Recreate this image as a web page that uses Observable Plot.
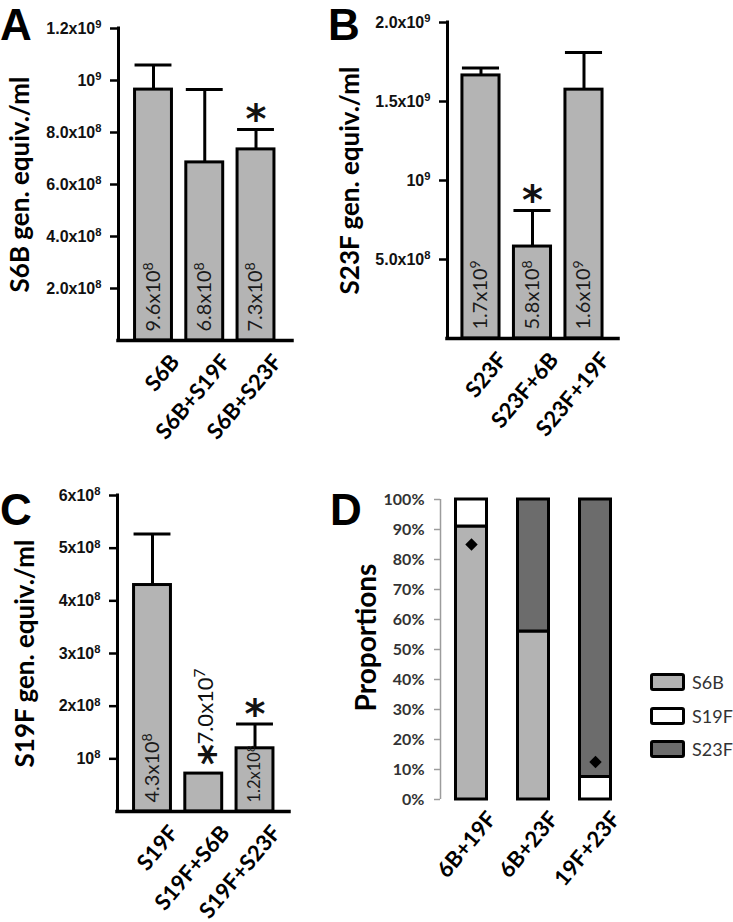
<!DOCTYPE html>
<html>
<head>
<meta charset="utf-8">
<script src="https://cdn.jsdelivr.net/npm/d3@7"></script>
<script src="https://cdn.jsdelivr.net/npm/@observablehq/plot@0.6"></script>
<style>
  html, body { margin: 0; padding: 0; background: #fff; }
  #fig { position: relative; width: 733px; height: 922px; overflow: hidden; background: #fff; }
  .panel { position: absolute; }
  .letter { position: absolute; font-family: 'Liberation Sans', Arial, sans-serif; font-weight: bold; font-size: 44px; line-height: 1.12; color: #000; }
  .leg { position: absolute; left: 650px; height: 18px; display: flex; align-items: center; font-family: Lato, sans-serif; font-size: 18px; color: #333; }
  .sw { display: inline-block; box-sizing: border-box; width: 35px; height: 18px; border: 3.5px solid #000; border-radius: 3px; margin-right: 7px; }
</style>
</head>
<body>
<div id="fig">
  <div class="panel" id="pA" style="left:0;top:0"></div>
  <div class="panel" id="pB" style="left:340px;top:0"></div>
  <div class="panel" id="pC" style="left:0;top:460px"></div>
  <div class="panel" id="pD" style="left:340px;top:460px"></div>
  <div class="letter" style="left:0;top:0">A</div>
  <div class="letter" style="left:328px;top:0">B</div>
  <div class="letter" style="left:0;top:485px">C</div>
  <div class="letter" style="left:330px;top:485px">D</div>
  <div id="legend"></div>
</div>
<script>
// ---------- Panel A ----------
const catsA = ["S6B", "S6B+S19F", "S6B+S23F"];
const meanA = [9.65e8, 6.85e8, 7.35e8];
const upperA = [1.06e9, 9.65e8, 8.12e8];
const textA = ["9.6x10^8", "6.8x10^8", "7.3x10^8"];
const starA = [false, false, true];
const ticksA = [2e8, 4e8, 6e8, 8e8, 1e9, 1.2e9];
const tickTextA = ["2.0x10^8", "4.0x10^8", "6.0x10^8", "8.0x10^8", "10^9", "1.2x10^9"];
const titleA = "S6B gen. equiv./ml";

// ---------- Panel B ----------
const catsB = ["S23F", "S23F+6B", "S23F+19F"];
const meanB = [1.665e9, 5.82e8, 1.575e9];
const upperB = [1.712e9, 8.1e8, 1.81e9];
const textB = ["1.7x10^9", "5.8x10^8", "1.6x10^9"];
const starB = [false, true, false];
const ticksB = [5e8, 1e9, 1.5e9, 2e9];
const tickTextB = ["5.0x10^8", "10^9", "1.5x10^9", "2.0x10^9"];
const titleB = "S23F gen. equiv./ml";

// ---------- Panel C ----------
const catsC = ["S19F", "S19F+S6B", "S19F+S23F"];
const meanC = [4.3e8, 7.2e7, 1.2e8];
const upperC = [5.27e8, null, 1.66e8];
const textC = ["4.3x10^8", null, "1.2x10^8"];
const starC = [false, false, true];
const aboveTextC = [null, "7.0x10^7", null];
const aboveStarC = [false, true, false];
const ticksC = [1e8, 2e8, 3e8, 4e8, 5e8, 6e8];
const tickTextC = ["10^8", "2x10^8", "3x10^8", "4x10^8", "5x10^8", "6x10^8"];
const titleC = "S19F gen. equiv./ml";

// ---------- Panel D ----------
const catsD = ["6B+19F", "6B+23F", "19F+23F"];
const seriesD = ["S6B", "S19F", "S23F"];
const colorsD = ["#b3b3b3", "#ffffff", "#6c6c6c"];
const propS6B = [0.91, 0.56, 0];
const propS19F = [0.09, 0, 0.075];
const propS23F = [0, 0.44, 0.925];
const diamondD = [0.85, null, 0.125];
const ticksD = [0, 0.1, 0.2, 0.3, 0.4, 0.5, 0.6, 0.7, 0.8, 0.9, 1];
const tickTextD = ["0%", "10%", "20%", "30%", "40%", "50%", "60%", "70%", "80%", "90%", "100%"];
const titleD = "Proportions";

// superscript helper: "a^b" -> a<tspan sup>b</tspan>
function supify(svg) {
  const ns = "http://www.w3.org/2000/svg";
  svg.querySelectorAll("text").forEach(t => {
    const nodes = t.querySelector("tspan") ? [...t.querySelectorAll("tspan")] : [t];
    nodes.forEach(n => {
      const m = (n.textContent || "").match(/^(.*)\^(\d+)$/);
      if (!m) return;
      n.textContent = "";
      const a = document.createElementNS(ns, "tspan");
      a.textContent = m[1];
      const b = document.createElementNS(ns, "tspan");
      b.textContent = m[2];
      b.setAttribute("font-size", "70%");
      b.setAttribute("dy", "-0.5em");
      n.append(a, b);
    });
  });
  return svg;
}

const BAR_FILL = "#b4b4b4";
const HW = 0.36;
const XROT = -50;
const TICKFONT = "'Liberation Sans Narrow', 'Arial Narrow', 'Liberation Sans', sans-serif";

function barPanel(cfg) {
  const {cats, mean, upper, text, star, ticks, tickText, title, width, height,
         marginLeft, marginRight, marginTop, marginBottom, xDomain, yDomain, titleDx,
         labelSizes, aboveText, aboveStar} = cfg;
  const rows = cats.map((c, i) => ({
    i, cat: c, mean: mean[i], upper: upper[i], label: text[i], star: star[i],
    above: aboveText ? aboveText[i] : null, aboveStar: aboveStar ? aboveStar[i] : false,
    labelSize: labelSizes[i]
  }));
  const withErr = rows.filter(d => d.upper != null);
  return supify(Plot.plot({
    width, height, marginLeft, marginRight, marginTop, marginBottom,
    x: {type: "linear", domain: xDomain, axis: null},
    y: {domain: yDomain, axis: null},
    style: {fontFamily: TICKFONT, fontSize: "16px", fontWeight: "bold",
            background: "transparent", overflow: "visible"},
    marks: [
      Plot.ruleX(withErr, {x: "i", y1: "mean", y2: "upper", stroke: "#000", strokeWidth: 3}),
      Plot.ruleY(withErr, {y: "upper", x1: d => d.i - HW, x2: d => d.i + HW, stroke: "#000", strokeWidth: 3}),
      Plot.rectY(rows, {x1: d => d.i - HW, x2: d => d.i + HW, y: "mean", fill: BAR_FILL, stroke: "#000", strokeWidth: 3}),
      Plot.ruleX([xDomain[0]], {stroke: "#000", strokeWidth: 3, strokeLinecap: "square"}),
      Plot.ruleY([0], {stroke: "#000", strokeWidth: 3.5, strokeLinecap: "square"}),
      Plot.axisY({ticks, tickFormat: d => tickText[ticks.indexOf(d)], tickSize: 8, tickPadding: 9,
                  strokeWidth: 2.5, fontFamily: TICKFONT, fontSize: 16, fontWeight: "bold", fill: "#111", label: null}),
      Plot.text(rows.filter(d => d.label), {x: "i", y: 0, text: "label", rotate: -90, textAnchor: "start",
                  dy: -9, fontFamily: "Lato", fontWeight: "normal", fontSize: d => d.labelSize, fill: "#1a1a1a"}),
      Plot.text(rows.filter(d => d.above), {x: "i", y: "mean", text: "above", rotate: -90, textAnchor: "start",
                  dy: -29, dx: 2, fontFamily: "Lato", fontWeight: "normal", fontSize: 22, fill: "#111"}),
      Plot.text(rows.filter(d => d.aboveStar), {x: "i", y: "mean", text: () => "*", rotate: -90, dy: -19, dx: 11,
                  fontFamily: "DejaVu Sans", fontWeight: "bold", fontSize: 40, fill: "#111"}),
      Plot.text(rows.filter(d => d.star), {x: "i", y: "upper", text: () => "*", dy: -9,
                  fontFamily: "DejaVu Sans", fontWeight: "bold", fontSize: 40, fill: "#111"}),
      Plot.text(rows, {x: "i", y: 0, text: "cat", rotate: XROT, textAnchor: "end", lineAnchor: "top",
                  dx: 15, dy: 12, fontFamily: "Lato", fontWeight: "bold", fontSize: 22, fill: "#000"}),
      Plot.text([title], {frameAnchor: "left", rotate: -90, textAnchor: "middle", dx: titleDx, fontFamily: "Lato",
                  fontWeight: "bold", fontSize: 26, fill: "#000"})
    ]
  }));
}

document.getElementById("pA").append(barPanel({
  cats: catsA, mean: meanA, upper: upperA, text: textA, star: starA, ticks: ticksA, tickText: tickTextA,
  title: titleA, width: 300, height: 445, marginLeft: 118, marginRight: 8, marginTop: 28, marginBottom: 105,
  xDomain: [-0.683, 2.712], yDomain: [0, 1.2e9], titleDx: -98, labelSizes: [20, 20, 20]
}));

document.getElementById("pB").append(barPanel({
  cats: catsB, mean: meanB, upper: upperB, text: textB, star: starB, ticks: ticksB, tickText: tickTextB,
  title: titleB, width: 290, height: 445, marginLeft: 107, marginRight: 12, marginTop: 22, marginBottom: 107,
  xDomain: [-0.65, 2.67], yDomain: [0, 2e9], titleDx: -97, labelSizes: [20, 20, 20]
}));

document.getElementById("pC").append(barPanel({
  cats: catsC, mean: meanC, upper: upperC, text: textC, star: starC, ticks: ticksC, tickText: tickTextC,
  title: titleC, width: 300, height: 462, marginLeft: 117, marginRight: 11, marginTop: 35, marginBottom: 111,
  xDomain: [-0.683, 2.673], yDomain: [0, 6e8], titleDx: -92, labelSizes: [20, 20, 16.5],
  aboveText: aboveTextC, aboveStar: aboveStarC
}));

// Panel D: stacked proportions
const propsD = [propS6B, propS19F, propS23F];
const segsD = [];
catsD.forEach((c, i) => {
  let acc = 0;
  seriesD.forEach((s, k) => {
    const v = propsD[k][i];
    if (v > 0) segsD.push({i, cat: c, series: s, y1: acc, y2: acc + v});
    acc += v;
  });
});
const diamondsD = catsD.map((c, i) => ({i, v: diamondD[i]})).filter(d => d.v != null);
const HWD = 0.25;

document.getElementById("pD").append(Plot.plot({
  width: 300, height: 462, marginLeft: 100, marginRight: 14, marginTop: 39, marginBottom: 123,
  x: {type: "linear", domain: [-0.5, 2.5], axis: null},
  y: {domain: [0, 1], axis: null},
  color: {domain: seriesD, range: colorsD},
  style: {fontFamily: "Lato, sans-serif", fontSize: "16px", background: "transparent", overflow: "visible"},
  marks: [
    Plot.ruleX([-0.5], {stroke: "#9c9c9c", strokeWidth: 1.5}),
    Plot.axisY({ticks: ticksD, tickFormat: d => tickTextD[ticksD.indexOf(d)], tickSize: 6, tickPadding: 10,
                stroke: "#9c9c9c", strokeWidth: 1.5, fill: "#333", fontFamily: "Lato", fontSize: 16,
                fontWeight: "bold", label: null}),
    Plot.rectY(segsD, {x1: d => d.i - HWD, x2: d => d.i + HWD, y1: "y1", y2: "y2", fill: "series",
                stroke: "#000", strokeWidth: 3}),
    Plot.dot(diamondsD, {x: "i", y: "v", symbol: "diamond2", r: 5.6, fill: "#000", stroke: "none"}),
    Plot.text(catsD.map((c, i) => ({i, c})), {x: "i", y: 0, text: "c", rotate: XROT, textAnchor: "end",
                lineAnchor: "top", dx: 14, dy: 10, fontFamily: "Lato", fontWeight: "bold", fontSize: 22, fill: "#000"}),
    Plot.text([titleD], {frameAnchor: "left", rotate: -90, textAnchor: "middle", dx: -73, dy: -12, fontFamily: "Lato",
                fontWeight: "bold", fontSize: 28, fill: "#000"})
  ]
}));

// Legend for panel D
const legTops = [673, 707, 740];
const legend = document.getElementById("legend");
seriesD.forEach((s, k) => {
  const row = document.createElement("div");
  row.className = "leg";
  row.style.top = legTops[k] + "px";
  const sw = document.createElement("span");
  sw.className = "sw";
  sw.style.background = colorsD[k];
  row.append(sw, document.createTextNode(s));
  legend.append(row);
});
</script>
</body>
</html>
